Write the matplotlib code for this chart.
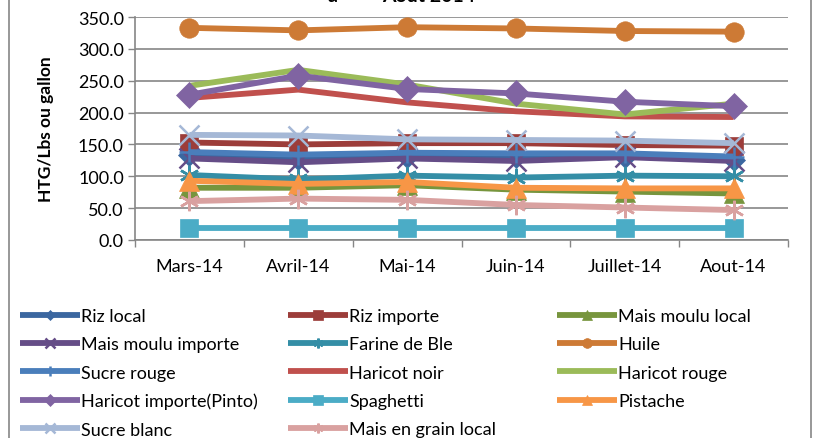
import matplotlib.pyplot as plt
from matplotlib.patches import Rectangle

plt.rcParams['font.family'] = ['Lato', 'DejaVu Sans']

# Donnees (HTG/Lbs ou gallon)
mois = ["Mars-14", "Avril-14", "Mai-14", "Juin-14", "Juillet-14", "Aout-14"]

produits = ["Riz local", "Riz importe", "Mais moulu local", "Mais moulu importe",
            "Farine de Ble", "Huile", "Sucre rouge", "Haricot noir", "Haricot rouge",
            "Haricot importe(Pinto)", "Spaghetti", "Pistache", "Sucre blanc",
            "Mais en grain local"]

riz_local = [133, 127, 131, 130, 131, 126]
riz_importe = [153, 150, 152, 152, 149, 148]
mais_moulu_local = [82, 82, 86, 79, 76, 73]
mais_moulu_importe = [128, 122, 128, 124, 130, 124]
farine_ble = [102, 95, 101, 98, 101, 100]
huile = [333, 329, 334, 332, 328, 327]
sucre_rouge = [138, 134, 137, 136, 136, 131]
haricot_noir = [223, 236, 216, 202, 194, 193]
haricot_rouge = [242, 267, 244, 214, 197, 214]
haricot_pinto = [228, 258, 237, 230, 217, 210]
spaghetti = [19, 19, 19, 19, 19, 19]
pistache = [93, 88, 91, 82, 81, 81]
sucre_blanc = [165, 164, 158, 157, 156, 152]
mais_grain_local = [61, 65, 63, 55, 51, 47]

series = [riz_local, riz_importe, mais_moulu_local, mais_moulu_importe, farine_ble,
          huile, sucre_rouge, haricot_noir, haricot_rouge, haricot_pinto, spaghetti,
          pistache, sucre_blanc, mais_grain_local]

couleurs = ["#3B67A0", "#9C3D3A", "#77953D", "#654D87", "#348EA6", "#CD7A35",
            "#4A7EBB", "#C0504D", "#9BBB59", "#8064A2", "#4BACC6", "#F79646",
            "#A5B8D6", "#D9A1A0"]
etoile = (6, 2, 0)
marqueurs = ["D", "s", "^", "x", etoile, "o", "+", None, None, "D", "s", "^", "x", etoile]
tailles = [11, 13, 14, 14, 14, 14, 14, 0, 0, 13, 13, 14, 14, 14]

fig = plt.figure(figsize=(8.16, 4.39), dpi=100)
ax = fig.add_axes([135 / 816, 1 - 241 / 439, (788 - 135) / 816, (241 - 18) / 439])

x = range(len(mois))
lignes = []
for i, vals in enumerate(series):
    m = marqueurs[i]
    trait = m in ("x", "+", etoile)
    ln, = ax.plot(x, vals, color=couleurs[i], lw=4.2, marker=m, markersize=tailles[i],
                  markeredgewidth=1.8 if trait else 0.5, markeredgecolor=couleurs[i],
                  markerfacecolor=couleurs[i], solid_capstyle="butt", label=produits[i],
                  zorder=3 + i * 0.01)
    lignes.append(ln)

ax.set_xlim(-0.5, 5.5)
ax.set_ylim(0, 350)
ax.set_yticks(range(0, 351, 50))
ax.set_yticklabels([f"{v:.1f}" for v in range(0, 351, 50)])
ax.set_xticks(list(x))
ax.set_xticklabels(mois)
ax.set_xticks([i - 0.5 for i in range(7)], minor=True)
ax.tick_params(axis="x", which="major", length=0, pad=13, labelsize=13)
ax.tick_params(axis="x", which="minor", length=5, color="#868686", width=1)
ax.tick_params(axis="y", length=5, color="#868686", width=1, pad=3, labelsize=13)
ax.grid(axis="y", color="#868686", lw=1.2, zorder=0)
for s in ("top", "right"):
    ax.spines[s].set_visible(False)
for s in ("left", "bottom"):
    ax.spines[s].set_color("#868686")
    ax.spines[s].set_linewidth(1.2)

fig.text(46 / 816, 1 - 129 / 439, "HTG/Lbs ou gallon", rotation=90, ha="center",
         va="center", fontsize=12.5, fontweight="bold")

# titre coupe en haut (seul le bas des lettres est visible)
fig.text(333 / 816, 1 - 2.5 / 439, "a", ha="center", va="baseline", fontsize=14,
         fontweight="bold")
fig.text(382 / 816, 1 - 2.5 / 439, "Aout 2014", ha="left", va="baseline", fontsize=14,
         fontweight="bold")

# legende sur 3 colonnes
col_x = [20, 288, 557]
for c in range(3):
    idx = list(range(c, len(produits), 3))
    fig.legend([lignes[i] for i in idx], [produits[i] for i in idx],
               loc="upper left", bbox_to_anchor=(col_x[c] / 816, 1 - 309 / 439),
               frameon=False, borderpad=0, borderaxespad=0, handlelength=3.3,
               handletextpad=0.1, labelspacing=0.68, markerscale=0.5, fontsize=13)

fig.add_artist(Rectangle((9 / 816, -0.02), (811 - 9) / 816, 1.05, transform=fig.transFigure,
                         fill=False, edgecolor="#868686", lw=1.2))

fig.savefig("out.png", dpi=100)
